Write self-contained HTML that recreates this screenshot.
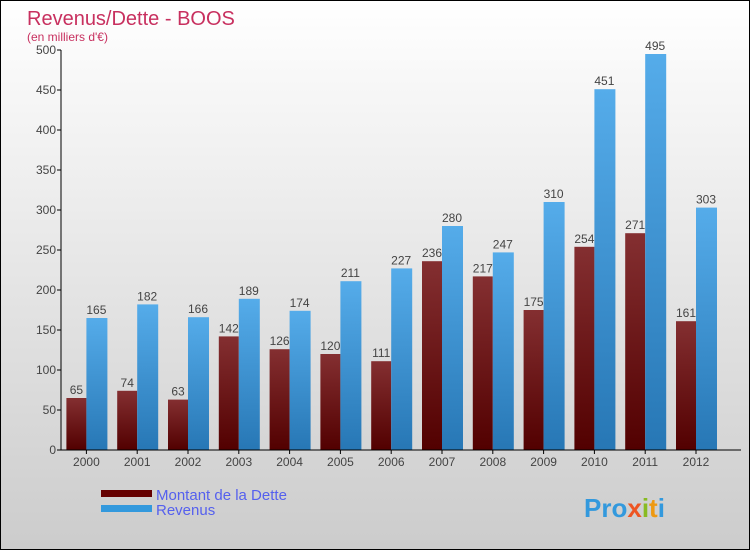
<!DOCTYPE html>
<html><head><meta charset="utf-8"><style>
body{margin:0;width:750px;height:550px;overflow:hidden;font-family:"Liberation Sans",sans-serif}
#wrap{position:relative;width:748px;height:548px;border:1px solid #000;background:linear-gradient(#fff,#ccc)}
</style></head><body>
<div id="wrap">
<svg id="svg" width="748" height="548" style="position:absolute;left:0;top:0">
<defs>
<linearGradient id="gd" x1="0" y1="0" x2="0" y2="1"><stop offset="0" stop-color="#842f31"/><stop offset="1" stop-color="#520000"/></linearGradient>
<linearGradient id="gr" x1="0" y1="0" x2="0" y2="1"><stop offset="0" stop-color="#55acea"/><stop offset="1" stop-color="#2777b5"/></linearGradient>
</defs>
<text x="26" y="24" font-size="20" fill="#c8305f">Revenus/Dette - BOOS</text>
<text x="26" y="40" font-size="12" fill="#c8305f">(en milliers d'€)</text>
<g id="plot"></g>
<g>
<rect x="100" y="489" width="51" height="7" fill="#650000"/>
<text x="155" y="499" font-size="15" fill="#5560ee">Montant de la Dette</text>
<rect x="100" y="504" width="51" height="7" fill="#3399dd"/>
<text x="155" y="514" font-size="15" fill="#5560ee">Revenus</text>
</g>
<text x="583" y="516" font-size="26" font-weight="bold"><tspan fill="#3399dd">Pro</tspan><tspan fill="#ee5522">x</tspan><tspan fill="#88bb22">i</tspan><tspan fill="#ee9911">t</tspan><tspan fill="#3399dd">i</tspan></text>
</svg>
</div>
<script>
const years=["2000","2001","2002","2003","2004","2005","2006","2007","2008","2009","2010","2011","2012"];
const dette=[65,74,63,142,126,120,111,236,217,175,254,271,161];
const revenus=[165,182,166,189,174,211,227,280,247,310,451,495,303];
const ticks=[0,50,100,150,200,250,300,350,400,450,500];
const NS="http://www.w3.org/2000/svg";
const g=document.getElementById('plot');
const x0=60,y0=449,step=50.8,k=0.8;
const y=v=>y0-v*k;
const xc=i=>x0+25.4+i*step;
function mk(t,a){const e=document.createElementNS(NS,t);for(const n in a)e.setAttribute(n,a[n]);g.appendChild(e);return e;}
ticks.forEach(t=>{
 const l=mk('line',{x1:x0-4,x2:x0,y1:y(t),y2:y(t),stroke:'#000'});
 
 
 const tx=mk('text',{x:x0-5,y:y(t)+4,'font-size':12,fill:'#444','text-anchor':'end'});
 tx.textContent=t;
 
 
});
years.forEach((yr,i)=>{
 const c=xc(i);
 const d=mk('rect',{x:c-20,y:y(dette[i]),width:20,height:dette[i]*k,fill:'url(#gd)'});
 
 
 const r=mk('rect',{x:c,y:y(revenus[i]),width:21,height:revenus[i]*k,fill:'url(#gr)'});
 
 
 const t1=mk('text',{x:c-10,y:y(dette[i])-4,'font-size':12,fill:'#444','text-anchor':'middle'});
 t1.textContent=dette[i];
 
 
 const t2=mk('text',{x:c+10,y:y(revenus[i])-4,'font-size':12,fill:'#444','text-anchor':'middle'});
 t2.textContent=revenus[i];
 
 
 const tk=mk('line',{x1:c,x2:c,y1:y0,y2:y0+4,stroke:'#000'});
 
 
 const xl=mk('text',{x:c,y:y0+16,'font-size':12,fill:'#444','text-anchor':'middle'});
 xl.textContent=yr;
 
 
});
const ya=mk('line',{x1:x0,x2:x0,y1:y(500),y2:y0,stroke:'#000'});


const xa=mk('line',{x1:x0,x2:740,y1:y0,y2:y0,stroke:'#000'});


</script>
</body></html>
